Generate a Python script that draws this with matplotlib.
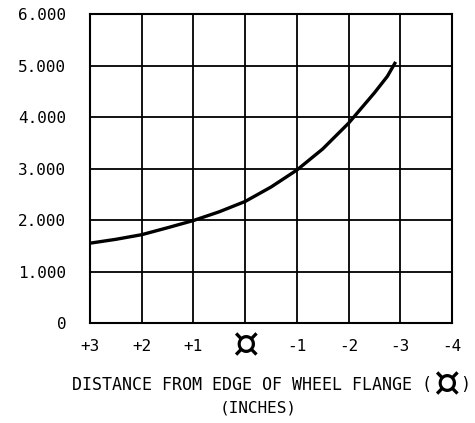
import matplotlib
matplotlib.use('Agg')
import matplotlib.pyplot as plt
from matplotlib.transforms import offset_copy

# distance from edge of wheel flange (inches) vs. value
distance = [3, 2.5, 2, 1.5, 1, 0.5, 0, -0.5, -1, -1.5, -2, -2.5, -2.75, -2.91]
value = [1550, 1625, 1715, 1850, 1990, 2160, 2360, 2640, 2970, 3380, 3880, 4470, 4790, 5070]

x_ticks = [3, 2, 1, 0, -1, -2, -3, -4]
x_labels = ['+3', '+2', '+1', '\u00a4', '-1', '-2', '-3', '-4']
y_ticks = [0, 1000, 2000, 3000, 4000, 5000, 6000]
y_labels = ['0', '1.000', '2.000', '3.000', '4.000', '5.000', '6.000']

SYM = '\u00a4'
SYM_SIZE = 30

plt.rcParams['font.family'] = 'DejaVu Sans Mono'

fig = plt.figure(figsize=(4.75, 4.23), dpi=100)
ax = fig.add_axes([0.1895, 0.2364, 0.7621, 0.7305])

ax.plot(distance, value, color='black', lw=2.4, solid_capstyle='butt',
        solid_joinstyle='round')

ax.set_xlim(3, -4)
ax.set_ylim(0, 6000)
ax.set_xticks(x_ticks)
ax.set_xticklabels(x_labels, fontsize=11.5)
ax.set_yticks(y_ticks)
ax.set_yticklabels(y_labels, fontsize=11.5)
for lbl in ax.get_xticklabels():
    lbl.set_verticalalignment('center')
    if lbl.get_text() == SYM:
        lbl.set_fontsize(SYM_SIZE)
        lbl.set_fontfamily('DejaVu Sans')
ax.tick_params(axis='x', length=0, pad=17)
ax.tick_params(axis='y', length=0, pad=17)
ax.grid(True, color='black', lw=1.3)
for s in ax.spines.values():
    s.set_linewidth(1.5)

# two-line axis caption, with a larger centreline sign inside the brackets
r = fig.canvas.get_renderer()
t1 = fig.text(72 / 475, 1 - 385 / 423, 'DISTANCE FROM EDGE OF WHEEL FLANGE (',
              fontsize=12, ha='left', va='center')
w1 = t1.get_window_extent(r)
ymid = w1.y0 + w1.height / 2
t2 = fig.text(0, 0, SYM, fontsize=SYM_SIZE, family='DejaVu Sans',
              ha='left', va='center',
              transform=offset_copy(fig.transFigure, fig, x=w1.x1 + 1, y=ymid, units='dots'))
w2 = t2.get_window_extent(r)
fig.text(0, 0, ')', fontsize=12, ha='left', va='center',
         transform=offset_copy(fig.transFigure, fig, x=w2.x1 + 1, y=ymid, units='dots'))
fig.text(258 / 475, 1 - 408 / 423, '(INCHES)', fontsize=11.5, ha='center', va='center')

fig.savefig('out.png', dpi=100)
